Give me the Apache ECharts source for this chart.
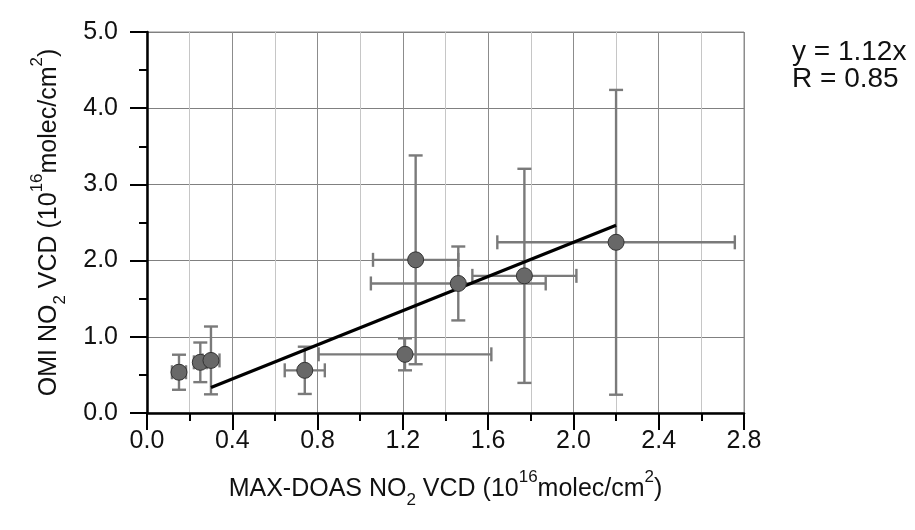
<!DOCTYPE html>
<html>
<head>
<meta charset="utf-8">
<script src="https://cdn.jsdelivr.net/npm/echarts@6/dist/echarts.min.js"></script>
<style>html,body{margin:0;padding:0;background:#fff}#c{width:915px;height:530px}</style>
</head>
<body>
<div id="c"></div>
<script>
// MAX-DOAS NO2 VCD (x) vs OMI NO2 VCD (y), units 1e16 molec/cm2
const xVals = [0.15, 0.25, 0.30, 0.74, 1.21, 1.26, 1.46, 1.77, 2.20];
const yVals = [0.535, 0.665, 0.69, 0.56, 0.77, 2.01, 1.70, 1.80, 2.24];
const xErr  = [0.033, 0.03, 0.04, 0.094, 0.405, 0.20, 0.41, 0.244, 0.557];
const yErr  = [0.23, 0.26, 0.445, 0.31, 0.21, 1.37, 0.485, 1.405, 2.0];
const fitLine = [[0.30, 0.336], [2.20, 2.464]];
const xTicks = [0.0, 0.4, 0.8, 1.2, 1.6, 2.0, 2.4, 2.8];
const yTicks = [0.0, 1.0, 2.0, 3.0, 4.0, 5.0];
const statLines = ['y = 1.12x', 'R = 0.85'];

const FONT = "'Liberation Sans', Arial, sans-serif";
const points = xVals.map((x, i) => [x, yVals[i]]);
const errData = xVals.map((x, i) => [x, yVals[i], xErr[i], yErr[i]]);

const rich = {
  a:   {fontSize: 25, fontFamily: FONT, color: '#111', lineHeight: 40, verticalAlign: 'middle'},
  sub: {fontSize: 17, fontFamily: FONT, color: '#111', lineHeight: 14, verticalAlign: 'bottom'},
  sup: {fontSize: 17, fontFamily: FONT, color: '#111', lineHeight: 14, verticalAlign: 'top'}
};

const chart = echarts.init(document.getElementById('c'), null, {renderer: 'canvas'});
chart.setOption({
  animation: false,
  backgroundColor: '#fff',
  grid: {left: 147, right: 171, top: 32, bottom: 117, show: true, borderColor: '#8a8a8a', borderWidth: 1, containLabel: false},
  xAxis: {
    type: 'value', min: 0, max: 2.8, interval: 0.4,
    name: '{a|MAX-DOAS NO}{sub|2}{a| VCD (10}{sup|16}{a|molec/cm}{sup|2}{a|)}',
    nameLocation: 'middle', nameGap: 56,
    nameTextStyle: {rich: rich},
    axisLine: {show: true, onZero: false, lineStyle: {color: '#000', width: 2.5}},
    axisTick: {show: true, inside: false, length: 17, lineStyle: {color: '#000', width: 2}},
    minorTick: {show: true, splitNumber: 2, length: 8, lineStyle: {color: '#000', width: 2}},
    axisLabel: {margin: 16, fontSize: 25, fontFamily: FONT, color: '#111',
      formatter: v => { const t = xTicks.find(k => Math.abs(k - v) < 1e-6); return t === undefined ? '' : t.toFixed(1); }},
    splitLine: {show: true, lineStyle: {color: '#8c8c8c', width: 1}},
    minorSplitLine: {show: true, lineStyle: {color: '#c6c6c6', width: 1}}
  },
  yAxis: {
    type: 'value', min: 0, max: 5, interval: 1,
    name: '{a|OMI NO}{sub|2}{a| VCD (10}{sup|16}{a|molec/cm}{sup|2}{a|)}',
    nameLocation: 'middle', nameGap: 78, nameRotate: 90,
    nameTextStyle: {rich: rich},
    axisLine: {show: true, onZero: false, lineStyle: {color: '#000', width: 2.5}},
    axisTick: {show: true, inside: false, length: 17, lineStyle: {color: '#000', width: 2}},
    minorTick: {show: true, splitNumber: 2, length: 8, lineStyle: {color: '#000', width: 2}},
    axisLabel: {margin: 29, fontSize: 25, fontFamily: FONT, color: '#111',
      formatter: v => { const t = yTicks.find(k => Math.abs(k - v) < 1e-6); return t === undefined ? '' : t.toFixed(1); }},
    splitLine: {show: true, lineStyle: {color: '#808080', width: 1}}
  },
  graphic: [
    {type: 'text', left: 792, top: 38, style: {text: statLines[0], font: '28px ' + FONT, fill: '#111'}},
    {type: 'text', left: 792, top: 65, style: {text: statLines[1], font: '28px ' + FONT, fill: '#111'}}
  ],
  series: [
    {
      type: 'custom', z: 2,
      data: errData,
      renderItem: function (params, api) {
        const x = api.value(0), y = api.value(1), xe = api.value(2), ye = api.value(3);
        const c = api.coord([x, y]);
        const l = api.coord([x - xe, y]), r = api.coord([x + xe, y]);
        const t = api.coord([x, y + ye]), b = api.coord([x, y - ye]);
        const h = 7;
        const st = {stroke: '#7a7a7a', lineWidth: 2.4, fill: null};
        const seg = (x1, y1, x2, y2) => ({type: 'line', shape: {x1, y1, x2, y2}, style: st});
        return {type: 'group', children: [
          seg(l[0], c[1], r[0], c[1]),
          seg(l[0], c[1] - h, l[0], c[1] + h),
          seg(r[0], c[1] - h, r[0], c[1] + h),
          seg(c[0], t[1], c[0], b[1]),
          seg(c[0] - h, t[1], c[0] + h, t[1]),
          seg(c[0] - h, b[1], c[0] + h, b[1])
        ]};
      }
    },
    {
      type: 'line', z: 3, data: fitLine, symbol: 'none',
      lineStyle: {color: '#000', width: 3.2}
    },
    {
      type: 'scatter', z: 4, data: points, symbol: 'circle', symbolSize: 16,
      itemStyle: {color: '#686868', borderColor: '#333', borderWidth: 1, opacity: 1}
    }
  ]
});
</script>
</body>
</html>
